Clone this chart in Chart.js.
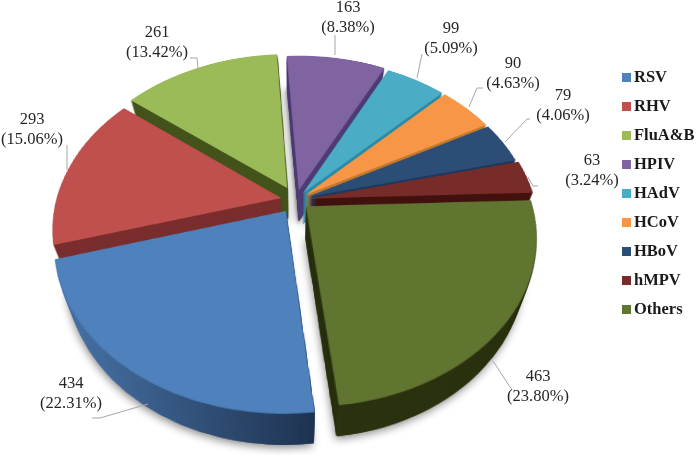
<!DOCTYPE html>
<html>
<head>
<meta charset="utf-8">
<style>
  html, body { margin: 0; padding: 0; background: #fff; }
  canvas { display: block; filter: blur(0.35px); }
</style>
<script src="https://cdn.jsdelivr.net/npm/chart.js@4"></script>
</head>
<body>
<canvas id="myChart" width="697" height="455"></canvas>
<script>
const categories = ['RSV', 'RHV', 'FluA&B', 'HPIV', 'HAdV', 'HCoV', 'HBoV', 'hMPV', 'Others'];
const counts = [434, 293, 261, 163, 99, 90, 79, 63, 463];
const percents = ['(22.31%)', '(15.06%)', '(13.42%)', '(8.38%)', '(5.09%)', '(4.63%)', '(4.06%)', '(3.24%)', '(23.80%)'];

const topColors = ['#4f81bd', '#c0504d', '#9bbb59', '#8064a2', '#4bacc6', '#f79646', '#2c4d75', '#772c2a', '#5f7530'];
const wallColors = ['#2a4468', '#7a2e2e', '#44541c', '#4f3d75', '#2e8aa5', '#c07a30', '#1f3a5e', '#42120f', '#2b3311'];
const explode = [18, 15, 19, 14, 12, 12, 12, 14, 13];
// far slices first so the near ones cover their walls
const paintOrder = [3, 4, 5, 6, 7, 2, 1, 0, 8];

// label centres and leader lines, one per slice
const labelAt = [[71, 384], [32, 120], [157, 33], [348, 8], [451, 29], [513, 64], [563, 96], [592, 161], [538, 377]];
const leaders = [
  [[92, 418], [100, 418], [148, 404]],
  [[67, 145], [67, 170]],
  [[190, 58], [197, 58], [198, 68]],
  [[335, 35], [335, 55]],
  [[422, 54], [417, 78]],
  [[483, 88], [477, 88], [469, 107]],
  [[530, 119], [527, 119], [505, 142]],
  [[538, 186], [533, 186], [528, 177]],
  [[512, 390], [493, 361]]
];

// perspective of the tilted pie
const CX = 296, CY = 200, RADIUS = 225, TILT = 0.72, PERSP = 0.18, DEPTH = 31, TAPER = 0.0017;
const FLAT = 640;

function makeCanvas(w, h) {
  const c = document.createElement('canvas');
  c.width = w;
  c.height = h;
  return c;
}

// flat slice -> tilted layer, row by row
function warp(flat, w, h) {
  const out = makeCanvas(w, h);
  const ctx = out.getContext('2d');
  const rowV = y => {
    const t = (y - CY) / (RADIUS * TILT);
    return t / (1 + PERSP * t);
  };
  for (let y = 0; y < h; y++) {
    const v0 = rowV(y), v1 = rowV(y + 1);
    if (Math.abs(v0) > 1.3) continue;
    const k = 1 / (1 - PERSP * (v0 + v1) / 2);
    ctx.drawImage(flat, 0, FLAT / 2 + v0 * RADIUS, FLAT, (v1 - v0) * RADIUS,
      CX - FLAT / 2 * k, y, FLAT * k, 1);
  }
  return out;
}

// wall layer pushed down by d, narrowing a little with depth
function stampWall(ctx, wall, d) {
  const k = 1 - d * TAPER;
  ctx.setTransform(k, 0, 0, 1, CX * (1 - k), d);
  ctx.drawImage(wall, 0, 0);
  ctx.setTransform(1, 0, 0, 1, 0, 0);
}

const pie3d = {
  id: 'pie3d',
  beforeDatasetsDraw(chart) {
    const ctx = chart.ctx;
    const arcs = chart.getDatasetMeta(0).data;
    const w = chart.width, h = chart.height;
    const tops = [], walls = [];

    arcs.forEach((arc, i) => {
      const flat = makeCanvas(FLAT, FLAT);
      const f = flat.getContext('2d');
      const mid = (arc.startAngle + arc.endAngle) / 2;
      const s = RADIUS / arc.outerRadius;
      f.translate(FLAT / 2 + Math.cos(mid) * explode[i], FLAT / 2 + Math.sin(mid) * explode[i]);
      f.scale(s, s);
      f.translate(-arc.x, -arc.y);
      arc.draw(f);
      tops[i] = warp(flat, w, h);

      const wall = makeCanvas(w, h);
      const g = wall.getContext('2d');
      g.drawImage(tops[i], 0, 0);
      g.globalCompositeOperation = 'source-in';
      if (i === 0) {
        const grad = g.createLinearGradient(60, 0, 320, 0);
        grad.addColorStop(0, '#4a75a8');
        grad.addColorStop(1, '#1e3250');
        g.fillStyle = grad;
      } else {
        g.fillStyle = wallColors[i];
      }
      g.fillRect(0, 0, w, h);
      walls[i] = wall;
    });

    // soft shadow under everything
    ctx.save();
    ctx.shadowColor = 'rgba(0,0,0,0.45)';
    ctx.shadowBlur = 9;
    ctx.shadowOffsetX = -1;
    ctx.shadowOffsetY = 3;
    walls.forEach(wall => stampWall(ctx, wall, DEPTH));
    // the gap behind FluA&B and HPIV is darker
    ctx.shadowColor = 'rgba(0,0,0,0.3)';
    ctx.shadowBlur = 3;
    stampWall(ctx, walls[2], DEPTH);
    stampWall(ctx, walls[3], DEPTH);
    ctx.restore();

    paintOrder.forEach(i => {
      for (let d = DEPTH; d > 0; d--) stampWall(ctx, walls[i], d);
      ctx.drawImage(tops[i], 0, 0);
    });
    return false;
  },
  afterDraw(chart) {
    const ctx = chart.ctx;
    ctx.save();
    ctx.strokeStyle = '#a6a6a6';
    ctx.lineWidth = 1;
    leaders.forEach(line => {
      ctx.beginPath();
      line.forEach((p, i) => i ? ctx.lineTo(p[0], p[1]) : ctx.moveTo(p[0], p[1]));
      ctx.stroke();
    });

    ctx.fillStyle = '#262626';
    ctx.font = '16.5px "Liberation Serif"';
    ctx.textAlign = 'center';
    ctx.textBaseline = 'middle';
    counts.forEach((n, i) => {
      ctx.fillText(String(n), labelAt[i][0], labelAt[i][1]);
      ctx.fillText(percents[i], labelAt[i][0], labelAt[i][1] + 20);
    });

    // legend
    ctx.textAlign = 'left';
    ctx.font = 'bold 16.5px "Liberation Serif"';
    categories.forEach((name, i) => {
      const y = 77 + i * 29;
      ctx.fillStyle = topColors[i];
      ctx.fillRect(622, y - 4, 9, 9);
      ctx.fillStyle = '#1a1a1a';
      ctx.fillText(name, 634, y + 1);
    });
    ctx.restore();
  }
};

new Chart(document.getElementById('myChart'), {
  type: 'pie',
  data: {
    labels: categories,
    datasets: [{
      data: counts,
      backgroundColor: topColors,
      borderWidth: 0
    }]
  },
  options: {
    responsive: false,
    animation: false,
    rotation: 173.6,
    plugins: {
      legend: { display: false },
      tooltip: { enabled: false }
    }
  },
  plugins: [pie3d]
});
</script>
</body>
</html>
